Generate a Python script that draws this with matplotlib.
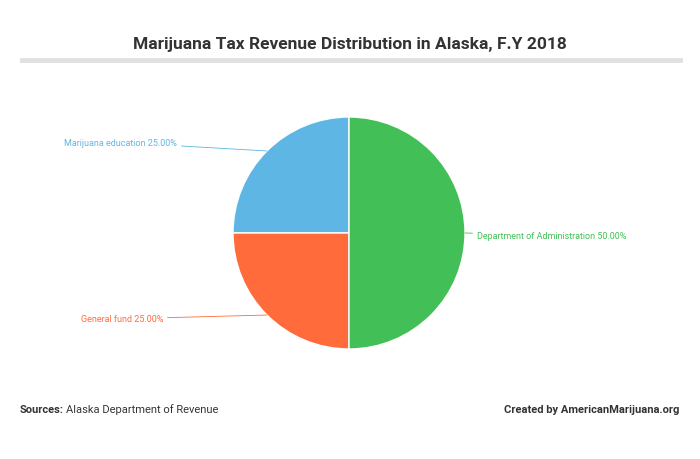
import numpy as np
import matplotlib.pyplot as plt

labels = ["Marijuana education", "General fund", "Department of Administration"]
values = [25.0, 25.0, 50.0]
colors = ["#5EB6E4", "#FF6B3A", "#43BF57"]

fig = plt.figure(figsize=(7, 4.6), dpi=100)
fig.patch.set_facecolor("white")

fig.text(0.5, 1 - 45 / 460, "Marijuana Tax Revenue Distribution in Alaska, F.Y 2018",
         ha="center", va="center", fontsize=12.5, fontweight="bold", color="#333333",
         family="Roboto")
fig.add_artist(plt.Line2D([22 / 700, 680 / 700], [1 - 61 / 460] * 2, color="#e0e0e0", lw=3.5))

ax = fig.add_axes([233 / 700, 110 / 460, 232 / 700, 232 / 460])
wedges, _ = ax.pie(values, colors=colors, startangle=90, counterclock=True,
                   wedgeprops=dict(edgecolor="white", linewidth=1))
ax.set_xlim(-1, 1)
ax.set_ylim(-1, 1)
ax.set_aspect("equal")

# label positions in axes data units (text anchor), alignment
text_pos = [(-1.48, 0.78, "right"), (-1.6, -0.74, "right"), (1.1, -0.02, "left")]
for w, lab, val, col, (tx, ty, ha) in zip(wedges, labels, values, colors, text_pos):
    mid = np.deg2rad((w.theta1 + w.theta2) / 2)
    x, y = np.cos(mid), np.sin(mid)
    ax.annotate(f"{lab} {val:.2f}%", xy=(x, y), xytext=(tx, ty), ha=ha, va="center",
                fontsize=6.5, color=col, family="Roboto",
                arrowprops=dict(arrowstyle="-", color=col, lw=0.6, shrinkA=1, shrinkB=0),
                annotation_clip=False)

fig.text(20 / 700, 1 - 410 / 460, "Sources:", fontsize=8, fontweight="bold",
         color="#333333", va="center", family="Roboto")
fig.text(66 / 700, 1 - 410 / 460, "Alaska Department of Revenue", fontsize=8,
         color="#333333", va="center", family="Roboto")
fig.text(679 / 700, 1 - 410 / 460, "Created by AmericanMarijuana.org", fontsize=8,
         fontweight="bold", color="#333333", va="center", ha="right", family="Roboto")

fig.savefig("out.png", dpi=100)
